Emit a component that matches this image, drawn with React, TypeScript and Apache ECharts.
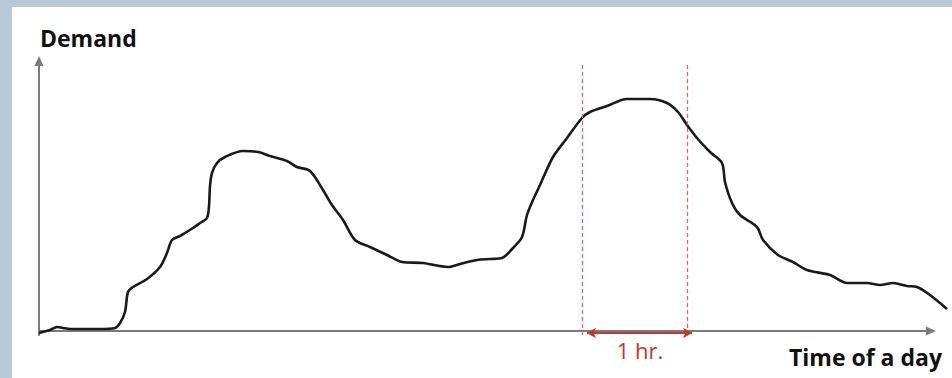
import React, { useEffect, useRef } from "react";
import * as echarts from "echarts";

// Time (arbitrary units along the day axis) and demand values
const time: number[] = [
  0, 11, 18, 24, 31, 61, 76, 81, 86, 89, 94, 108, 121, 128, 133, 141, 154, 161, 168, 170,
  171, 173, 178, 186, 204, 219, 231, 248, 258, 271, 284, 293, 304, 316, 331, 348, 363, 384,
  409, 421, 438, 451, 463, 474, 483, 488, 494, 501, 514, 528, 543, 551, 568, 588, 611, 628,
  639, 648, 658, 671, 683, 686, 693, 701, 718, 724, 739, 754, 768, 791, 808, 828, 841, 854,
  868, 878, 891, 908,
];
const demand: number[] = [
  -2, 1, 4, 3, 2, 2, 3, 8, 19, 39, 44, 52, 64, 78, 91, 95, 103, 108, 113, 125,
  145, 158, 168, 174, 180, 179, 175, 170, 164, 160, 141, 126, 111, 91, 84, 76, 69, 68,
  64, 67, 71, 72, 73, 83, 94, 116, 131, 146, 174, 193, 213, 219, 225, 232, 232, 228,
  219, 206, 193, 179, 168, 149, 128, 116, 104, 91, 76, 69, 61, 56, 48, 48, 46, 48,
  45, 44, 36, 22,
];

// Peak-hour window ("1 hr.")
const windowStart = 543;
const windowEnd = 648;
const windowTop = 269;
const windowLabel = "1 hr.";

const xAxisMax = 892; // where the drawn time axis (arrow) ends
const xDataMax = 910; // the curve runs a little past the arrow
const yMin = -4;
const yMax = 270;

export default function App() {
  const ref = useRef<HTMLDivElement>(null);

  useEffect(() => {
    if (!ref.current) return;
    const chart = echarts.init(ref.current, undefined, { renderer: "svg" });
    const curve = time.map((t, i) => [t, demand[i]]);
    const red = "#c0392b";
    const hiddenAxis = {
      axisLine: { show: false },
      axisTick: { show: false },
      axisLabel: { show: false },
      splitLine: { show: false },
    };
    chart.setOption({
      animation: false,
      backgroundColor: "#ffffff",
      grid: [
        { left: 27, top: 54, width: 892, height: 274, containLabel: false },
        { left: 27, top: 54, width: 910, height: 274, containLabel: false },
      ],
      xAxis: [
        {
          type: "value",
          gridIndex: 0,
          min: 0,
          max: xAxisMax,
          axisLine: {
            onZero: true,
            symbol: ["none", "triangle"],
            symbolSize: [9, 10],
            lineStyle: { color: "#7a7a7a", width: 2 },
          },
          axisTick: { show: false },
          axisLabel: { show: false },
          splitLine: { show: false },
        },
        { type: "value", gridIndex: 1, min: 0, max: xDataMax, ...hiddenAxis },
      ],
      yAxis: [
        {
          type: "value",
          gridIndex: 0,
          min: yMin,
          max: yMax,
          axisLine: {
            onZero: true,
            symbol: ["none", "triangle"],
            symbolSize: [9, 10],
            lineStyle: { color: "#7a7a7a", width: 2 },
          },
          axisTick: { show: false },
          axisLabel: { show: false },
          splitLine: { show: false },
        },
        { type: "value", gridIndex: 1, min: yMin, max: yMax, ...hiddenAxis },
      ],
      series: [
        {
          type: "line",
          name: "Demand",
          xAxisIndex: 1,
          yAxisIndex: 1,
          data: curve,
          clip: false,
          smooth: 0.3,
          showSymbol: false,
          lineStyle: { color: "#1a1a1a", width: 2.6 },
          z: 3,
        },
        {
          type: "line",
          xAxisIndex: 1,
          yAxisIndex: 1,
          data: [],
          silent: true,
          markLine: {
            silent: true,
            symbol: ["none", "none"],
            label: { show: false },
            lineStyle: { color: "#e06666", type: [4, 3], width: 1.3 },
            data: [
              [{ coord: [windowStart, yMin] }, { coord: [windowStart, windowTop] }],
              [{ coord: [windowEnd, yMin] }, { coord: [windowEnd, windowTop] }],
            ],
          },
        },
        {
          type: "line",
          xAxisIndex: 1,
          yAxisIndex: 1,
          data: [],
          silent: true,
          markLine: {
            silent: true,
            symbol: ["arrow", "arrow"],
            symbolSize: [8, 9],
            label: { show: false },
            lineStyle: { color: red, type: "solid", width: 2.2 },
            data: [[{ coord: [windowStart + 5, -2] }, { coord: [windowEnd + 5, -2] }]],
          },
        },
      ],
      graphic: [
        {
          type: "text",
          x: 28,
          y: 31,
          style: {
            text: "Demand",
            fill: "#111111",
            font: 'bold 23px "Open Sans"',
            align: "left",
            verticalAlign: "middle",
          },
        },
        {
          type: "text",
          x: 930,
          y: 350,
          style: {
            text: "Time of a day",
            fill: "#111111",
            font: 'bold 23px "Open Sans"',
            align: "right",
            verticalAlign: "middle",
          },
        },
        {
          type: "text",
          x: 628,
          y: 343,
          style: {
            text: windowLabel,
            fill: red,
            font: '22px "Open Sans"',
            align: "center",
            verticalAlign: "middle",
          },
        },
      ],
    });
    return () => chart.dispose();
  }, []);

  return (
    <div
      style={{
        position: "fixed",
        left: 0,
        top: 0,
        width: 952,
        height: 378,
        background: "#b8c9d9",
      }}
    >
      <div
        ref={ref}
        style={{ position: "absolute", left: 12, top: 7, width: 940, height: 371 }}
      />
    </div>
  );
}
